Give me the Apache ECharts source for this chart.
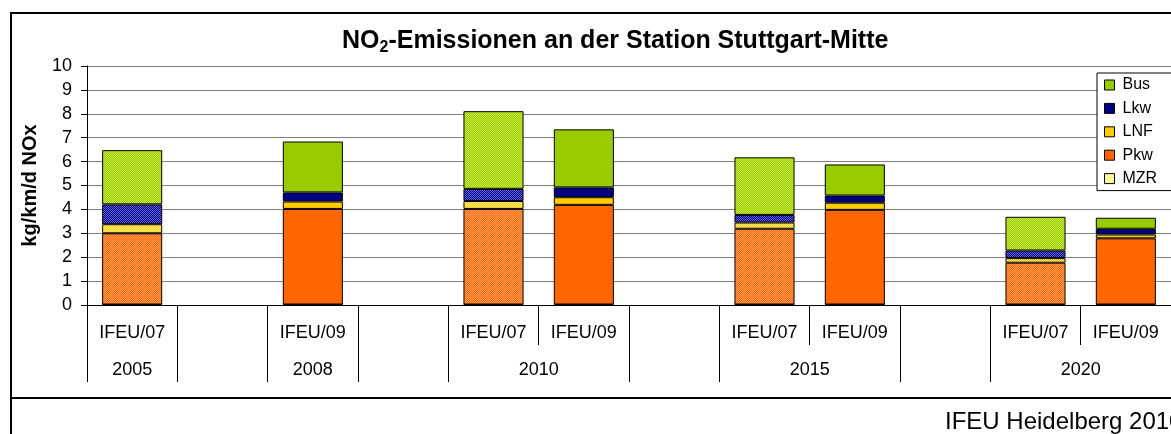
<!DOCTYPE html>
<html>
<head>
<meta charset="utf-8">
<script src="https://cdn.jsdelivr.net/npm/echarts@6/dist/echarts.min.js"></script>
<style>
  html, body { margin: 0; padding: 0; background: #fff; }
  #chart1 { width: 1171px; height: 434px; }
</style>
</head>
<body>
<div id="chart1"></div>
<script>
// categories (lower row) and year groups (upper row)
var subLabels = ['IFEU/07', '', 'IFEU/09', '', 'IFEU/07', 'IFEU/09', '', 'IFEU/07', 'IFEU/09', '', 'IFEU/07', 'IFEU/09'];
var yearLabels = ['2005', '', '2008', '', '2010', '', '2015', '', '2020'];
var yearSpans = [1, 1, 1, 1, 2, 1, 2, 1, 2];

// kg/km/d NOx, per category slot (null = empty slot)
var mzr = [0.02, null, 0.02, null, 0.02, 0.02, null, 0.02, 0.02, null, 0.02, 0.02];
var pkw = [2.98, null, 4.00, null, 4.00, 4.17, null, 3.17, 3.96, null, 1.75, 2.77];
var lnf = [0.38, null, 0.31, null, 0.33, 0.32, null, 0.26, 0.30, null, 0.19, 0.16];
var lkw = [0.83, null, 0.38, null, 0.51, 0.41, null, 0.32, 0.30, null, 0.32, 0.24];
var bus = [2.27, null, 2.13, null, 3.25, 2.43, null, 2.41, 1.30, null, 1.41, 0.46];

var font = 'Liberation Sans, Arial, sans-serif';

// dotted fill used for the IFEU/07 bars
function dotted(base, light) {
    var c = document.createElement('canvas');
    c.width = 2; c.height = 2;
    var ctx = c.getContext('2d');
    ctx.fillStyle = base; ctx.fillRect(0, 0, 2, 2);
    ctx.fillStyle = light; ctx.fillRect(0, 0, 1, 1); ctx.fillRect(1, 1, 1, 1);
    return { image: c, repeat: 'repeat' };
}

function makeSeries(name, vals, color, light) {
    var pat = dotted(color, light);
    return {
        name: name,
        type: 'bar',
        stack: 'total',
        barCategoryGap: '33.5%',
        itemStyle: { color: color, borderColor: '#000', borderWidth: 1 },
        data: vals.map(function (v, i) {
            if (v == null) return '-';
            if (subLabels[i] === 'IFEU/07') return { value: v, itemStyle: { color: pat } };
            return v;
        })
    };
}

// upper axis: half-slot points so group labels and group borders land on points
var yearPoints = [], yearTicks = {}, pos = 0;
yearTicks[0] = true;
for (var g = 0; g < yearLabels.length; g++) {
    pos += yearSpans[g] * 2;
    yearTicks[pos] = true;
}
for (var k = 0; k <= pos; k++) yearPoints.push('');
pos = 0;
for (g = 0; g < yearLabels.length; g++) {
    yearPoints[pos + yearSpans[g]] = yearLabels[g];
    pos += yearSpans[g] * 2;
}

var myChart = echarts.init(document.getElementById('chart1'));
var option = {
    animation: false,
    textStyle: { fontFamily: font },
    title: [{
        text: '{a|NO}{s|2}{a|-Emissionen an der Station Stuttgart-Mitte}',
        left: 337,
        top: 21,
        textStyle: {
            rich: {
                a: { fontFamily: font, fontSize: 25, fontWeight: 'bold', color: '#000', lineHeight: 30, verticalAlign: 'bottom', height: 30 },
                s: { fontFamily: font, fontSize: 16, fontWeight: 'bold', color: '#000', lineHeight: 16, verticalAlign: 'bottom' }
            }
        }
    }, {
        text: 'IFEU Heidelberg 2010',
        left: 940,
        top: 405,
        textStyle: { fontFamily: font, fontSize: 24, fontWeight: 'normal', color: '#000' }
    }],
    legend: {
        orient: 'vertical',
        left: 1097,
        top: 73,
        padding: [4, 16, 4, 7],
        itemWidth: 10,
        itemHeight: 10,
        itemGap: 7.4,
        backgroundColor: '#fff',
        borderColor: '#000',
        borderWidth: 1,
        icon: 'rect',
        itemStyle: { borderColor: '#000', borderWidth: 1 },
        textStyle: { fontFamily: font, fontSize: 16, color: '#000', padding: [0, 0, 0, 3] },
        data: ['Bus', 'Lkw', 'LNF', 'Pkw', 'MZR']
    },
    grid: { left: 87, right: 0, top: 66, bottom: 129, containLabel: false },
    xAxis: [{
        type: 'category',
        data: subLabels,
        axisLine: { lineStyle: { color: '#000', width: 1 } },
        axisTick: { show: true, length: 40, interval: 0, lineStyle: { color: '#000' } },
        axisLabel: { interval: 0, margin: 19, fontSize: 18, color: '#000', fontFamily: font }
    }, {
        type: 'category',
        position: 'bottom',
        boundaryGap: false,
        min: 0,
        max: yearPoints.length - 1,
        data: yearPoints,
        axisLine: { show: false },
        axisTick: {
            show: true, length: 77, lineStyle: { color: '#000' },
            interval: function (idx) { return !!yearTicks[idx]; }
        },
        axisLabel: {
            margin: 56, fontSize: 18, color: '#000', fontFamily: font,
            interval: function (idx) { return yearPoints[idx] !== ''; }
        },
        splitLine: { show: false }
    }],
    yAxis: {
        type: 'value',
        min: 0,
        max: 10,
        interval: 1,
        name: 'kg/km/d NOx',
        nameLocation: 'middle',
        nameRotate: 90,
        nameGap: 47,
        nameTextStyle: { fontFamily: font, fontSize: 20, fontWeight: 'bold', color: '#000' },
        axisLine: { show: true, lineStyle: { color: '#000' } },
        axisTick: { show: true, length: 6, lineStyle: { color: '#000' } },
        axisLabel: { margin: 15, fontSize: 18, color: '#000', fontFamily: font },
        splitLine: { lineStyle: { color: '#808080', width: 1 } }
    },
    graphic: [
        { type: 'rect', shape: { x: 11, y: 13, width: 1200, height: 500 }, style: { fill: null, stroke: '#000', lineWidth: 2 }, z: 100 },
        { type: 'line', shape: { x1: 11, y1: 398, x2: 1171, y2: 398 }, style: { stroke: '#000', lineWidth: 2 }, z: 100 }
    ],
    series: [
        makeSeries('MZR', mzr, '#ffff99', '#ffff99'),
        makeSeries('Pkw', pkw, '#ff6600', '#ff9f5a'),
        makeSeries('LNF', lnf, '#ffcc00', '#ffee88'),
        makeSeries('Lkw', lkw, '#000080', '#6666dd'),
        makeSeries('Bus', bus, '#99cc00', '#ccee44')
    ]
};
myChart.setOption(option);
</script>
</body>
</html>
